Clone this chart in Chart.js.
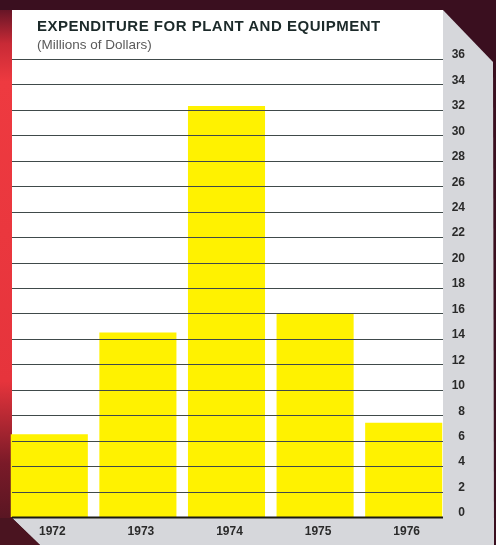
<!DOCTYPE html>
<html>
<head>
<meta charset="utf-8">
<script src="https://cdn.jsdelivr.net/npm/chart.js@4/dist/chart.umd.min.js"></script>
<style>
  html, body { margin: 0; padding: 0; background: #3a0f1f; }
  #wrap { position: relative; width: 496px; height: 545px; overflow: hidden; }
  #chartCanvas { position: absolute; left: 0; top: 0; }
  .title { position: absolute; left: 37px; top: 17px; font: bold 15px "Liberation Sans", Arial, sans-serif; color: #1c2a2a; white-space: nowrap; letter-spacing: 0.5px; }
  .subtitle { position: absolute; left: 37px; top: 37px; font: 13.5px "Liberation Sans", Arial, sans-serif; color: #5a5a5a; white-space: nowrap; }
</style>
</head>
<body>
<div id="wrap">
  <canvas id="chartCanvas" width="496" height="545"></canvas>
  <div class="title">EXPENDITURE FOR PLANT AND EQUIPMENT</div>
  <div class="subtitle">(Millions of Dollars)</div>
</div>
<script>
var aar = ["1972", "1973", "1974", "1975", "1976"];
var udgifter = [6.5, 14.5, 32.3, 16.0, 7.4];
var yMin = 0;
var yMax = 36;
var yStep = 2;

// baggrund: ramme, hvidt panel, grå strimler
var ramme = {
    id: 'ramme',
    beforeDraw: function (chart) {
        var ctx = chart.ctx;
        var W = chart.width, H = chart.height;
        ctx.save();
        ctx.fillStyle = '#3a0f1f';
        ctx.fillRect(0, 0, W, H);
        var g = ctx.createLinearGradient(0, 0, 0, H);
        g.addColorStop(0, '#4a0f22');
        g.addColorStop(0.08, '#c82a36');
        g.addColorStop(0.15, '#ee3a40');
        g.addColorStop(0.7, '#e6343c');
        g.addColorStop(0.85, '#7a1a28');
        g.addColorStop(1, '#4a1420');
        ctx.fillStyle = g;
        ctx.fillRect(0, 10, 12, H - 10);
        // hvidt panel
        ctx.fillStyle = '#ffffff';
        ctx.fillRect(12, 10, 431, 508);
        // grå strimmel til højre med skrå top
        ctx.fillStyle = '#d6d7db';
        ctx.beginPath();
        ctx.moveTo(443, 10);
        ctx.lineTo(493, 62);
        ctx.lineTo(494, H);
        ctx.lineTo(443, H);
        ctx.closePath();
        ctx.fill();
        // grå strimmel forneden med skrå hjørne
        ctx.beginPath();
        ctx.moveTo(12, 518);
        ctx.lineTo(494, 518);
        ctx.lineTo(494, H);
        ctx.lineTo(40, H);
        ctx.closePath();
        ctx.fill();
        ctx.fillStyle = '#4a1420';
        ctx.beginPath();
        ctx.moveTo(0, 518);
        ctx.lineTo(12, 518);
        ctx.lineTo(40, H);
        ctx.lineTo(0, H);
        ctx.closePath();
        ctx.fill();
        ctx.restore();
    },
    afterDatasetsDraw: function (chart) {
        var ctx = chart.ctx;
        var y = chart.scales.y;
        ctx.save();
        y.ticks.forEach(function (t) {
            var py = Math.round(y.getPixelForValue(t.value)) + 0.5;
            ctx.strokeStyle = t.value === 0 ? '#1a1a12' : '#404a4a';
            ctx.lineWidth = t.value === 0 ? 2 : 1.2;
            ctx.beginPath();
            ctx.moveTo(12, py);
            ctx.lineTo(443, py);
            ctx.stroke();
        });
        ctx.restore();
    }
};

var ctx = document.getElementById("chartCanvas");
var myBarChart = new Chart(ctx, {
    type: 'bar',
    data: {
        labels: aar,
        datasets: [{
            label: "Expenditure for plant and equipment",
            backgroundColor: '#fff200',
            data: udgifter,
            categoryPercentage: 1,
            barPercentage: 0.87
        }]
    },
    options: {
        responsive: false,
        devicePixelRatio: 1,
        animation: false,
        layout: { padding: { left: 5, top: 59, right: 31, bottom: 0 } },
        plugins: {
            legend: { display: false },
            tooltip: { enabled: false }
        },
        scales: {
            x: {
                grid: { display: false, drawTicks: false },
                border: { display: false },
                ticks: {
                    padding: 7,
                    labelOffset: 3,
                    color: '#2a2a2a',
                    font: { family: 'Liberation Sans', size: 12, weight: 'bold' }
                },
                afterFit: function (s) { s.height = 28; }
            },
            y: {
                position: 'right',
                min: yMin,
                max: yMax,
                grid: { display: false, drawTicks: false },
                border: { display: false },
                ticks: {
                    stepSize: yStep,
                    padding: 0,
                    crossAlign: 'far',
                    labelOffset: -4,
                    color: '#2a2a2a',
                    font: { family: 'Liberation Sans', size: 12, weight: 'bold' }
                },
                afterFit: function (s) { s.width = 17; }
            }
        }
    },
    plugins: [ramme]
});
</script>
</body>
</html>
